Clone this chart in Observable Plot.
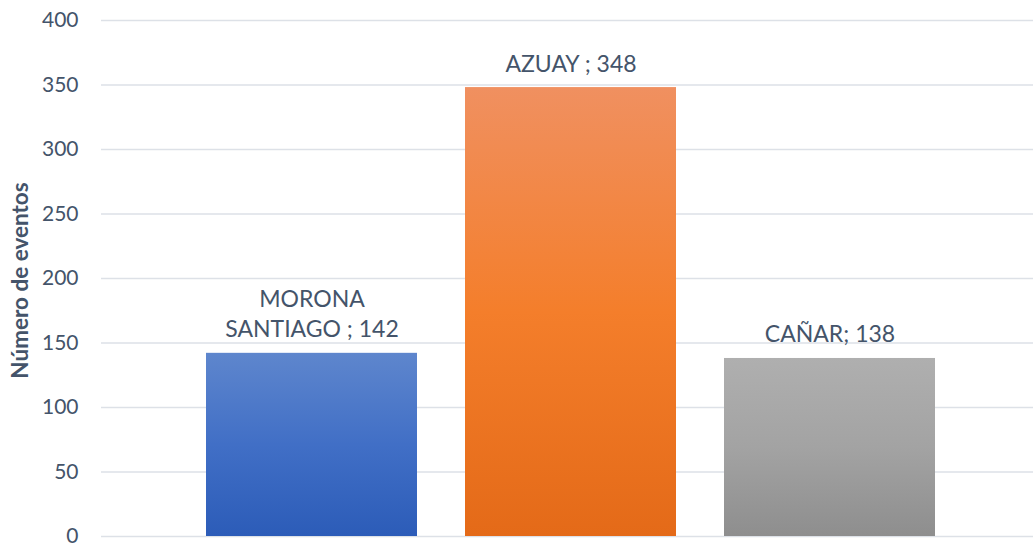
<!DOCTYPE html>
<html><head><meta charset="utf-8">
<script src="https://cdn.jsdelivr.net/npm/d3@7"></script>
<script src="https://cdn.jsdelivr.net/npm/@observablehq/plot@0.6"></script>
<style>body{margin:0;background:#fff}</style>
</head><body><div id="chart"></div>
<script>
const categories = ["MORONA SANTIAGO", "AZUAY", "CAÑAR"];
const values = [142, 348, 138];
const labels = ["MORONA\nSANTIAGO ; 142", "AZUAY ; 348", "CAÑAR; 138"];
const topColors = ["#5E86CD", "#F09060", "#AFAFAF"];
const midColors = ["#416FC6", "#F47E2B", "#A3A3A3"];
const bottomColors = ["#2C5CB8", "#E46A18", "#8E8E8E"];
const yTicks = [0, 50, 100, 150, 200, 250, 300, 350, 400];
const yTitle = "Número de eventos";

const data = categories.map((c, i) => ({cat: c, value: values[i], label: labels[i], fill: `url(#grad${i})`}));

const defsMark = () => {
  const defs = d3.create("svg:defs");
  categories.forEach((c, i) => {
    const g = defs.append("linearGradient").attr("id", `grad${i}`)
      .attr("x1", 0).attr("y1", 0).attr("x2", 0).attr("y2", 1);
    g.append("stop").attr("offset", "0%").attr("stop-color", topColors[i]);
    g.append("stop").attr("offset", "50%").attr("stop-color", midColors[i]);
    g.append("stop").attr("offset", "100%").attr("stop-color", bottomColors[i]);
  });
  return defs.node();
};

const textColor = "#44546A";
const plot = Plot.plot({
  width: 1033,
  height: 543,
  marginTop: 20,
  marginBottom: 7,
  marginLeft: 101,
  marginRight: 0,
  style: {fontFamily: "Lato, sans-serif", fontSize: "21px", color: textColor, background: "#fff"},
  x: {domain: categories, range: [156.5, 983.5], padding: 0.187, axis: null},
  y: {domain: [0, 400], axis: null},
  color: {type: "identity"},
  marks: [
    defsMark,
    Plot.ruleY(yTicks, {stroke: "#DDE1E7", strokeWidth: 1.5}),
    Plot.axisY({ticks: yTicks, tickSize: 0, tickPadding: 23, label: null, fill: textColor, fontSize: 21}),
    Plot.text([yTitle], {text: d => d, frameAnchor: "left", textAnchor: "middle", rotate: -90, dx: -81, dy: 2, fontWeight: "bold", fontSize: 22.5, fill: textColor}),
    Plot.barY(data, {x: "cat", y: "value", fill: "fill"}),
    Plot.text(data, {x: "cat", y: "value", text: "label", lineAnchor: "bottom", dy: -16, lineHeight: 1.3, fill: textColor, fontSize: 23})
  ]
});
document.getElementById("chart").appendChild(plot);
</script>
</body></html>
